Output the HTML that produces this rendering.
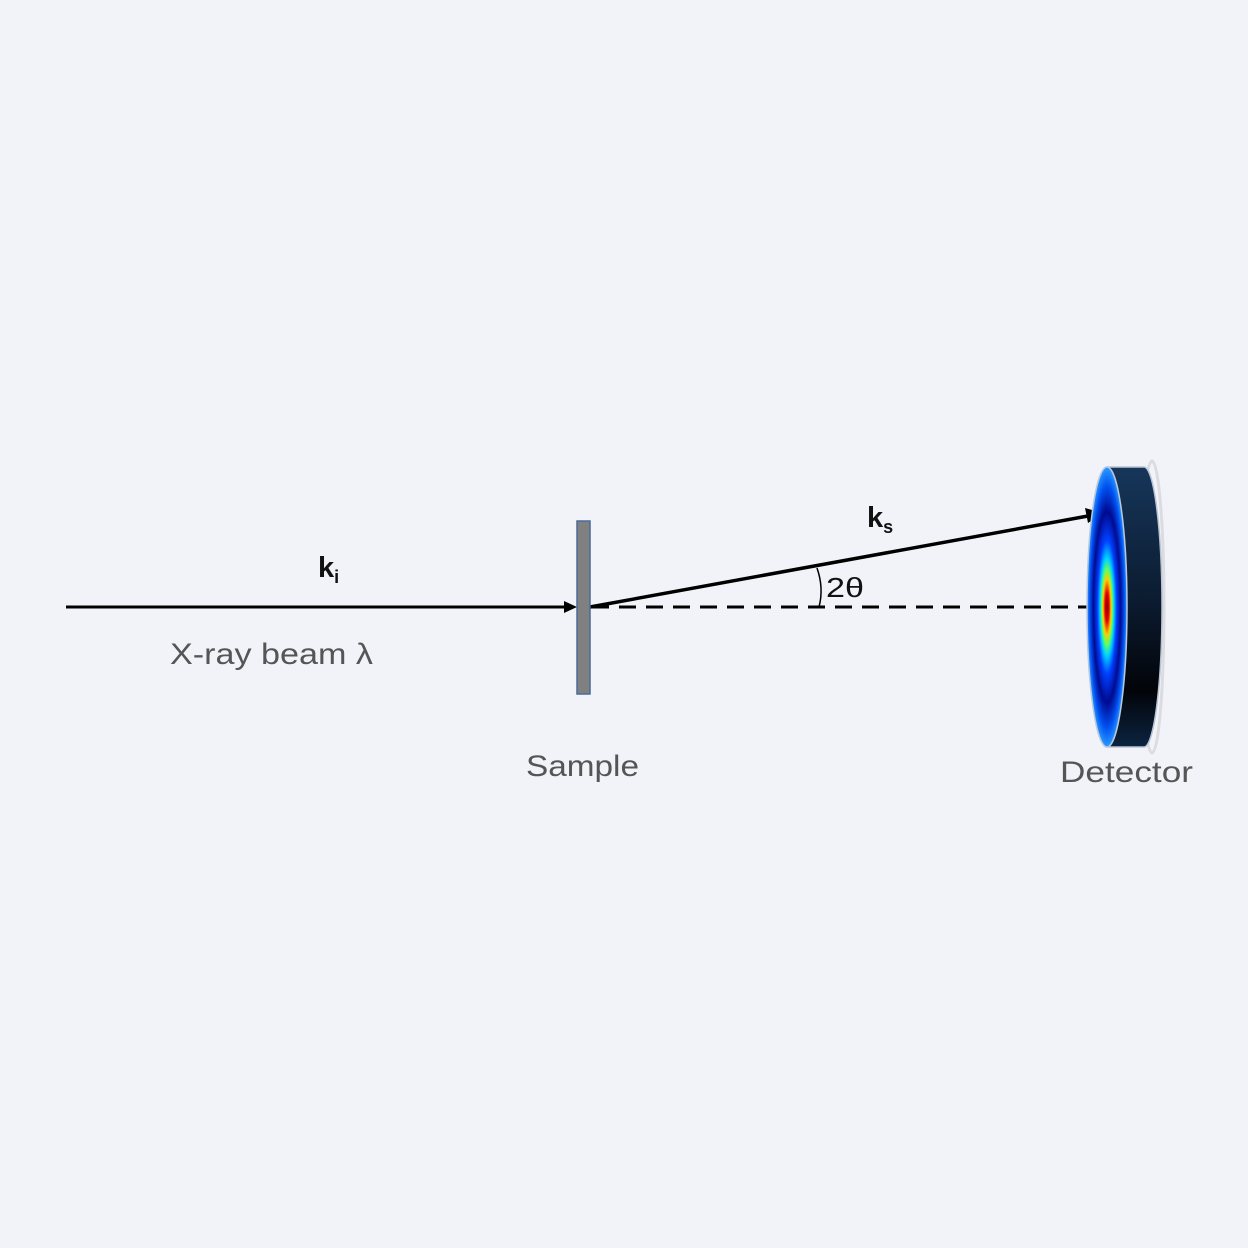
<!DOCTYPE html>
<html><head><meta charset="utf-8"><style>
html,body{margin:0;padding:0;background:#f2f3f8;}
svg{display:block;}
text{font-family:"Liberation Sans",sans-serif;}
</style></head><body>
<svg width="1248" height="1248" viewBox="0 0 1248 1248" xmlns="http://www.w3.org/2000/svg">
<defs>
<radialGradient id="spot" cx="0.5" cy="0.5" r="0.5">
<stop offset="0" stop-color="#8a0000"/>
<stop offset="0.1" stop-color="#e00000"/>
<stop offset="0.2" stop-color="#ffcc00"/>
<stop offset="0.27" stop-color="#60ff60"/>
<stop offset="0.35" stop-color="#00d0ff"/>
<stop offset="0.48" stop-color="#0040ff"/>
<stop offset="0.68" stop-color="#000a90"/>
<stop offset="0.86" stop-color="#0050f0"/>
<stop offset="1" stop-color="#2a9aff"/>
</radialGradient>
<linearGradient id="body" x1="0" y1="0" x2="0" y2="1">
<stop offset="0" stop-color="#16365a"/>
<stop offset="0.5" stop-color="#0b1a2e"/>
<stop offset="0.8" stop-color="#020408"/>
<stop offset="1" stop-color="#0c2440"/>
</linearGradient>
</defs>
<rect width="1248" height="1248" fill="#f2f3f8"/>
<line x1="66" y1="607" x2="568" y2="607" stroke="#000" stroke-width="3"/>
<polygon points="577,607 564,601 564,613" fill="#000"/>
<line x1="592" y1="607" x2="1090" y2="607" stroke="#000" stroke-width="3" stroke-dasharray="17,10"/>
<line x1="590" y1="607" x2="1088" y2="516" stroke="#000" stroke-width="3.5"/>
<polygon points="1103,513 1085,508 1088,523" fill="#000"/>
<path d="M817,568 Q824,588 819,607" fill="none" stroke="#000" stroke-width="1.5"/>
<rect x="577" y="521" width="13" height="173" fill="#808080" stroke="#4a6a9a" stroke-width="1.5"/>
<ellipse cx="1152" cy="607" rx="12" ry="146" fill="none" stroke="#dcdce0" stroke-width="3"/>
<path d="M1107,467 L1144,467 A18,140 0 0 1 1144,747 L1107,747 Z" fill="url(#body)" stroke="#b8c4d4" stroke-width="1.5"/>
<ellipse cx="1107" cy="607" rx="20" ry="140" fill="url(#spot)" stroke="#b8c8e0" stroke-width="1.5"/>
<text x="318" y="577" font-size="29" font-weight="bold" fill="#111">k<tspan font-size="18" dy="6">i</tspan></text>
<text x="867" y="527" font-size="29" font-weight="bold" fill="#111">k<tspan font-size="18" dy="6">s</tspan></text>
<text x="826" y="597" font-size="28" fill="#111" textLength="38" lengthAdjust="spacingAndGlyphs">2θ</text>
<text x="170" y="664" font-size="30" fill="#555" textLength="203" lengthAdjust="spacingAndGlyphs">X-ray beam λ</text>
<text x="526" y="776" font-size="30" fill="#555" textLength="113" lengthAdjust="spacingAndGlyphs">Sample</text>
<text x="1060" y="782" font-size="30" fill="#555" textLength="133" lengthAdjust="spacingAndGlyphs">Detector</text>
</svg>
</body></html>
